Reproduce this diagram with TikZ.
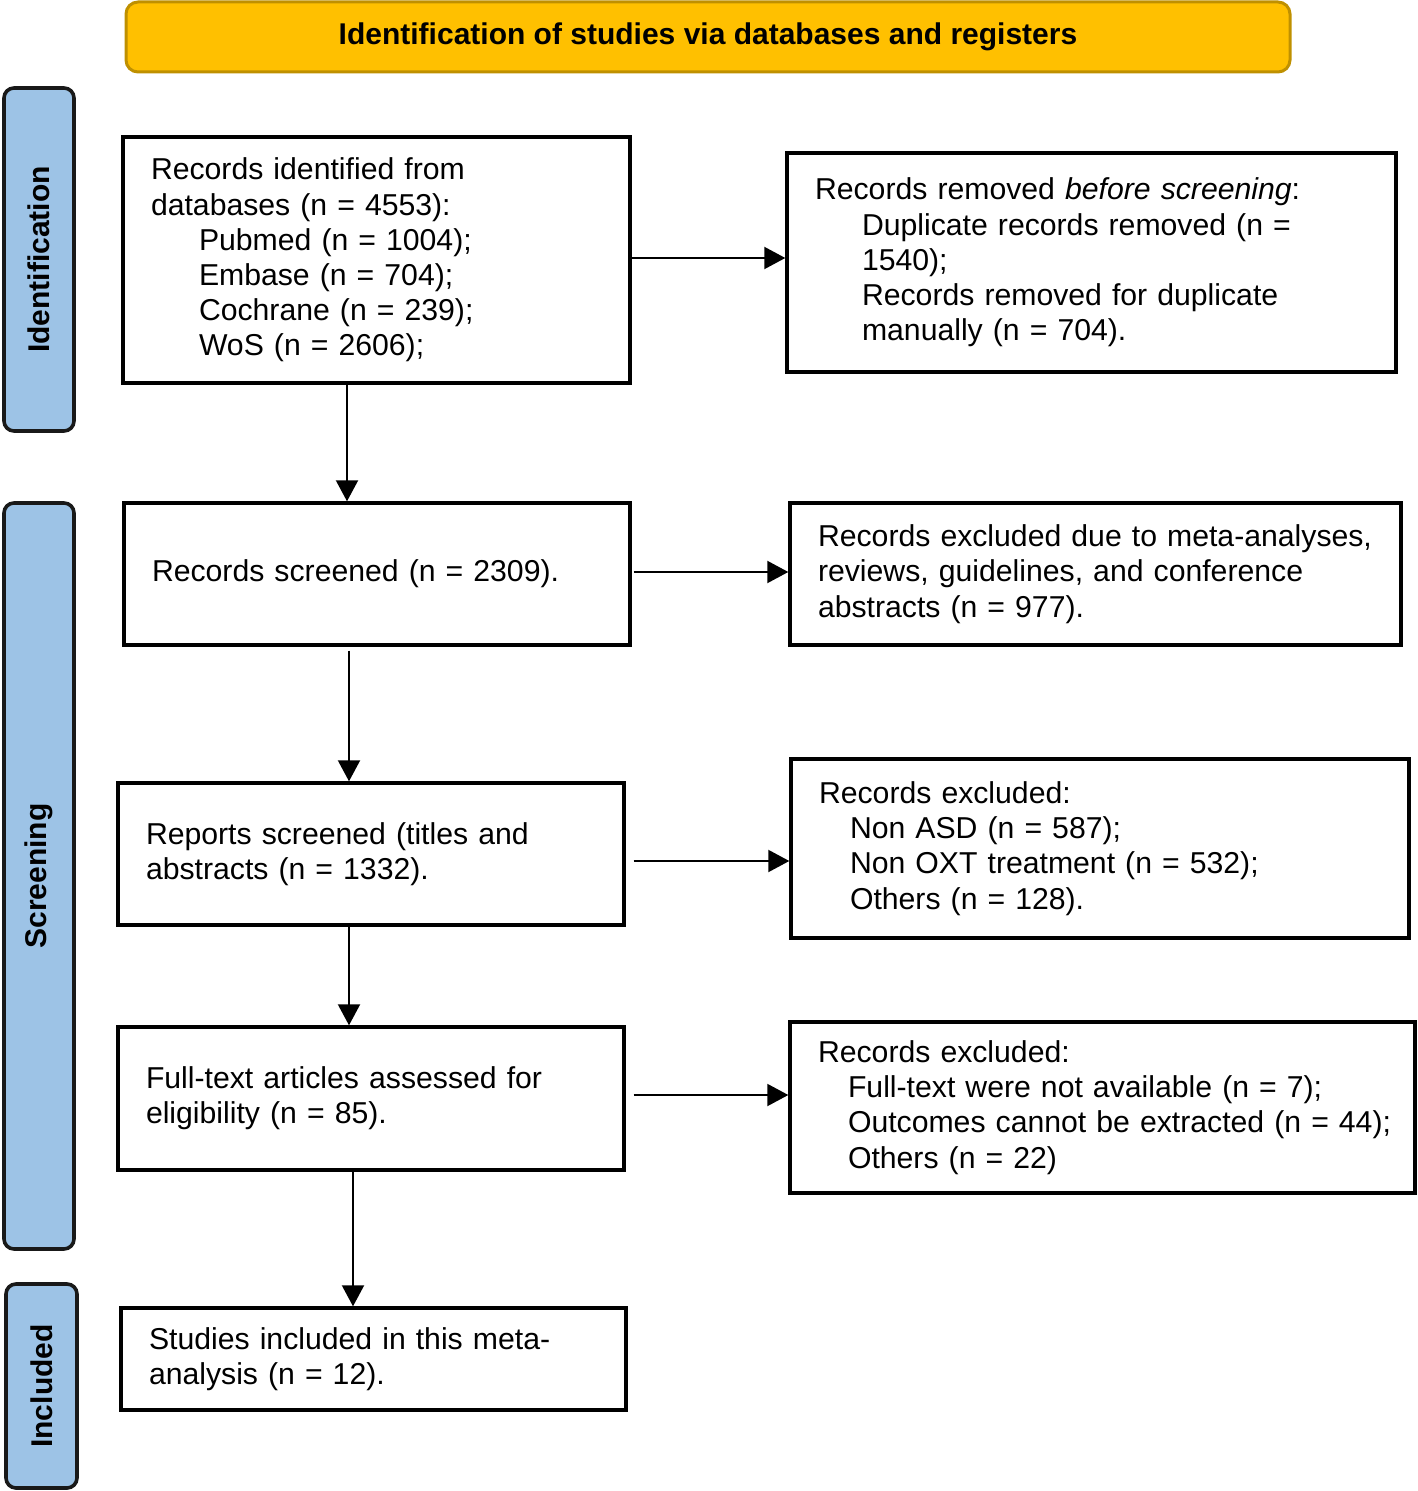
\documentclass[tikz,border=0pt]{standalone}
\usepackage{fontspec}
\setmainfont{Liberation Sans}
\usetikzlibrary{arrows.meta}
\definecolor{titlefill}{HTML}{FFC000}
\definecolor{titledraw}{HTML}{BF9000}
\definecolor{sidefill}{HTML}{9DC3E6}
\newcommand{\boxline}[1]{\mbox{#1}}
\newcommand{\indline}[2]{\mbox{\hspace*{#1}#2}}
\begin{document}
\begin{tikzpicture}[x=0.5pt,y=-0.5pt,
  flowbox/.style={draw=black, line width=1.7pt, fill=white, align=left,
    inner xsep=14pt, inner ysep=0pt,
    font=\fontsize{15.1}{17.6}\selectfont},
  sidebox/.style={draw=black!90, line width=1.8pt, fill=sidefill, rounded corners=5pt,
    rotate=90, minimum height=35pt, inner sep=0pt,
    font=\fontsize{15}{18}\selectfont\bfseries},
  arr/.style={line width=1pt, -{Triangle[length=10.5pt,width=11pt]}}]
\useasboundingbox (0,0) rectangle (1417,1491);

% title
\node[draw=titledraw, line width=1.5pt, fill=titlefill, rounded corners=6pt,
  minimum width=582pt, minimum height=35pt, inner sep=0pt,
  font=\fontsize{15}{18}\selectfont\bfseries] (title) at (708,37)
  {Identification of studies via databases and registers};

% side labels
\node[sidebox, minimum width=171.5pt] (sideid) at (39,259.5) {Identification};
\node[sidebox, minimum width=373pt] (sidescr) at (39,876) {Screening};
\node[sidebox, minimum width=102pt, minimum height=35.5pt] (sideinc) at (41.5,1386) {Included};

% boxes
\node[flowbox, minimum width=253.5pt, minimum height=123pt, text width=225.5pt] (b1) at (376.5,260)
  {\boxline{Records identified from}\\\boxline{databases (n = 4553):}\\
   \indline{24pt}{Pubmed (n = 1004);}\\
   \indline{24pt}{Embase (n = 704);}\\
   \indline{24pt}{Cochrane (n = 239);}\\
   \indline{24pt}{WoS (n = 2606);}};

\node[flowbox, minimum width=304.5pt, minimum height=109.5pt, text width=276.5pt] (b2) at (1091.5,262.5)
  {\boxline{Records removed \textit{before screening}:}\\
   \indline{23.5pt}{Duplicate records removed (n =}\\
   \indline{23.5pt}{1540);}\\
   \indline{23.5pt}{Records removed for duplicate}\\
   \indline{23.5pt}{manually (n = 704).}};

\node[flowbox, minimum width=253pt, minimum height=71pt, text width=225pt] (b3) at (377,574)
  {\boxline{Records screened (n = 2309).}};

\node[flowbox, minimum width=305.5pt, minimum height=71pt, text width=277.5pt] (b4) at (1095.5,574)
  {\boxline{Records excluded due to meta-analyses,}\\\boxline{reviews, guidelines, and conference}\\\boxline{abstracts (n = 977).}};

\node[flowbox, minimum width=253pt, minimum height=71pt, text width=225pt] (b5) at (371,854)
  {\boxline{Reports screened (titles and}\\\boxline{abstracts (n = 1332).}};

\node[flowbox, minimum width=309pt, minimum height=89.5pt, text width=281pt] (b6) at (1100,848.5)
  {\boxline{Records excluded:}\\
   \indline{15.5pt}{Non ASD (n = 587);}\\
   \indline{15.5pt}{Non OXT treatment (n = 532);}\\
   \indline{15.5pt}{Others (n = 128).}};

\node[flowbox, minimum width=253pt, minimum height=71.5pt, text width=225pt] (b7) at (371,1098.5)
  {\boxline{Full-text articles assessed for}\\\boxline{eligibility (n = 85).}};

\node[flowbox, minimum width=312.5pt, minimum height=85.5pt, text width=284.5pt] (b8) at (1102.5,1107.5)
  {\boxline{Records excluded:}\\
   \indline{15pt}{Full-text were not available (n = 7);}\\
   \indline{15pt}{Outcomes cannot be extracted (n = 44);}\\
   \indline{15pt}{Others (n = 22)}};

\node[flowbox, minimum width=252.5pt, minimum height=51pt, text width=224.5pt] (b9) at (373.5,1359)
  {\boxline{Studies included in this meta-}\\\boxline{analysis (n = 12).}};

% connector guide coordinates
\coordinate (v1) at (347,0);
\coordinate (v2) at (349,0);
\coordinate (v3) at (353,0);
\coordinate (h1) at (0,258);
\coordinate (h2) at (0,572);
\coordinate (h3) at (0,861);
\coordinate (h4) at (0,1095);

% horizontal arrows
\draw[arr] (b1.east |- h1) -- (b2.west |- h1);
\draw[arr] ([xshift=1pt]b3.east |- h2) -- (b4.west |- h2);
\draw[arr] ([xshift=4pt]b5.east |- h3) -- (b6.west |- h3);
\draw[arr] ([xshift=4pt]b7.east |- h4) -- (b8.west |- h4);

% vertical arrows
\draw[arr] (b1.south -| v1) -- (b3.north -| v1);
\draw[arr] ([yshift=-2pt]b3.south -| v2) -- (b5.north -| v2);
\draw[arr] (b5.south -| v2) -- (b7.north -| v2);
\draw[arr] (b7.south -| v3) -- (b9.north -| v3);
\end{tikzpicture}
\end{document}
